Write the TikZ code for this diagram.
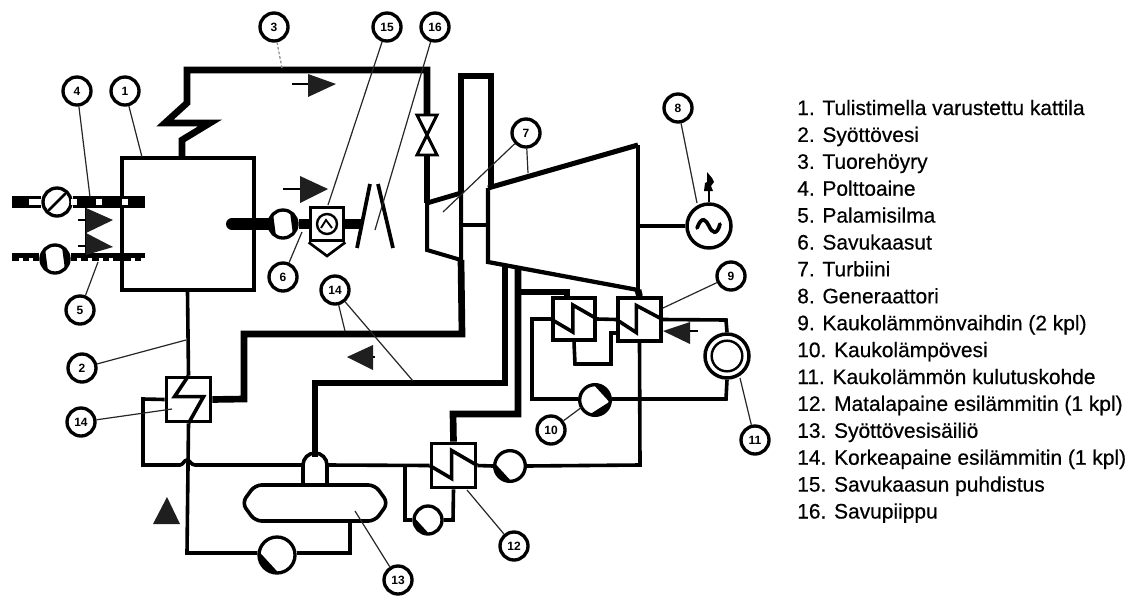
\documentclass[tikz,border=0pt]{standalone}
\usepackage{fontspec}
\setmainfont{Liberation Sans}
\newfontfamily\legendfont[FakeBold=0.5]{Liberation Sans}
\usetikzlibrary{calc}
\tikzset{
  thin pipe/.style={line width=2.7pt,line join=miter},
  thick pipe/.style={line width=5pt,line join=miter},
  casing/.style={line width=3pt,line join=miter},
  leader/.style={line width=0.9pt,draw=black!85},
  callout/.style={circle,draw,fill=white,line width=2.5pt,minimum size=21pt,inner sep=0pt,font=\fontsize{9}{10}\selectfont\bfseries},
  pumpbody/.style={circle,draw,fill=white,line width=2.5pt,inner sep=0pt},
  hxbox/.style={rectangle,draw,fill=white,line width=2.8pt,inner sep=0pt,minimum size=#1},
  flowmark/.style={fill=black!88,draw=none},
  tick/.style={line width=0.9pt},
  legendline/.style={anchor=base west,inner sep=0pt,font=\legendfont\fontsize{15.7}{17}\selectfont}
}
\newcommand{\pumpat}[4]{%
  \node[pumpbody,minimum size=2*#3 pt] (#1) at (#2) {};
  \foreach \a in {#4}{\fill (#1.center) ++(\a:#3 pt) arc[start angle=\a,delta angle=105,radius=#3 pt] -- cycle;}
}
\begin{document}
\begin{tikzpicture}[x=0.75pt,y=-0.75pt]
\useasboundingbox (0,0) rectangle (1135,596);

% ---- equipment
\node[rectangle,draw,line width=3pt,minimum width=99pt,minimum height=99pt,inner sep=0pt] (boiler) at (187.5,223.5) {};
\node[hxbox=33pt] (hxhp) at (188.5,399.5) {};
\node[hxbox=33pt] (hxlp) at (453.5,465.5) {};
\node[hxbox=32pt] (hxa) at (574,319) {};
\node[hxbox=32pt] (hxb) at (639.5,319.5) {};
\node[rectangle,draw,fill=white,line width=2.5pt,minimum size=25pt,inner sep=0pt] (filter) at (327,224) {};
\node[circle,draw,line width=2.6pt,minimum size=33pt,inner sep=0pt] (gen) at (709,226) {};
\node[circle,draw,line width=2.6pt,minimum size=33pt,inner sep=0pt] (load) at (727,356) {};
\node[circle,draw,line width=1.8pt,minimum size=23pt,inner sep=0pt] (loadinner) at (load.center) {};
\pumpat{pfuel}{57,202}{10.5}{}
\pumpat{pair}{55,259}{10.5}{135,315}
\pumpat{pflue}{283,224}{10.5}{135,315}
\pumpat{pfeed}{277,555}{13.5}{170}
\pumpat{pdh}{595,400}{11.5}{-10,250}
\pumpat{pcond}{510,466}{11.5}{170}
\pumpat{pdrain}{428,520}{10.5}{170}

% ---- reference points
\coordinate (hpinT) at (427,203);
\coordinate (hpoutB) at (461,260);
\coordinate (lpTL) at (488,188);
\coordinate (lpTR) at (638,145);
\coordinate (lpBR) at (638,290);
\coordinate (lpBL) at (488,262);
\coordinate (tank) at (315,503);

% ---- fuel and air lines
\draw[line width=9pt] (12,202) -- (pfuel.west);
\draw[line width=9pt] (pfuel.east) -- (145,202);
\foreach \x in {74,99,125}{\fill[white] (\x-3,199) rectangle (\x+3,205);}
\fill[white] (29,199) rectangle (41,205);
\draw[line width=2pt,line cap=round] (49,210) -- (65,194);
\draw[line width=3.2pt] (12,255.5) -- (pair.west |- 0,255.5);
\draw[line width=3.2pt] (pair.east |- 0,255.5) -- (145,255.5);
\draw[line width=3pt,dash pattern=on 5pt off 3pt] (12,259) -- (pair.west |- 0,259);
\draw[line width=3pt,dash pattern=on 5pt off 3pt] (pair.east |- 0,259) -- (145,259);
\draw[line width=2pt] (86,205) -- (86,255);
\fill[flowmark] (86,208) -- (113,220) -- (86,233) -- cycle;
\fill[flowmark] (86,233) -- (113,247) -- (86,255) -- cycle;
\draw[tick] (78,220) -- (86,220);
\draw[tick] (78,246) -- (86,246);

% ---- flue gas
\draw[line width=9pt,line cap=round] (232,224) -- (pflue.west);
\draw[line width=7pt] (pflue.east) -- (filter.west);
\draw[line width=7pt] (filter.east) -- (362,224);
\node[circle,draw,line width=1.8pt,minimum size=15pt,inner sep=0pt] (filterfan) at (filter.center) {};
\draw[line width=1.4pt] (321,228) -- (326,220) -- (332,228);
\draw[line width=2pt,fill=white,line join=miter] (filter.south west) -- (327,256) -- (filter.south east);
\draw[line width=2.8pt] (370,184) -- (357,248);
\draw[line width=2.8pt] (378,184) -- (393,248);

% ---- live steam
\draw[thick pipe] (182,157) -- (182,140) -- (210,123) -- (165,123) -- (187,103) -- (187,70) -- (427,70) -- (427,115);
\draw[line width=2.2pt,fill=white,line join=miter] (417,115) -- (437,115) -- (417,155) -- (437,155) -- cycle;
\draw[thick pipe] (427,155) -- (hpinT);

% ---- turbines
\draw[casing] (hpinT) -- (427,250) -- (hpoutB) -- (461,193);
\draw[line width=3.6pt] (hpinT) -- (461,193);
\draw[casing,line width=3.2pt] (lpTL) -- (lpBL) -- (lpBR);
\draw[line width=3.8pt] (lpTL) -- (lpTR);
\draw[line width=2.8pt] (lpTR) -- (lpBR);
\draw[casing] (461,225) -- (488,225);
\draw[casing] (lpTR |- gen.west) -- (gen.west);

% ---- extraction and bleed lines
\draw[thick pipe] (461,193) -- (461,76) -- (491,76) -- (491,185);
\draw[thick pipe] (hxhp.east) -- (244,399) -- (244,334) -- (462,334) -- (hpoutB);
\draw[thick pipe] (315,457) -- (315,383) -- (505,383) -- (505,265);
\draw[thick pipe] (hxlp.north) -- (453,414) -- (518,414) -- (518,267);
\draw[thick pipe] (518,292) -- (567,292) -- (567,298);
\draw[thick pipe] (lpBR) -- (hxb.north);

% ---- heat exchanger coils
\draw[thin pipe] (hxa.west) -- ++(22,13) -- ++(0,-27) -- (hxa.east);
\draw[thin pipe] (hxb.west) -- ++(20,13) -- ++(0,-27) -- (hxb.east);
\draw[thin pipe] (hxlp.west) -- ++(22,13) -- ++(0,-28) -- (hxlp.east);
\draw[thin pipe] (hxhp.north) -- ++(-14,21) -- ++(29,0) -- (hxhp.south);

% ---- district heat circuit
\draw[thin pipe] (hxa.east) -- (hxb.west);
\draw[thin pipe] (hxa.south) -- (575,364) -- (611,364) -- (611,333) -- (618,333);
\draw[thin pipe] (hxa.west) -- (532,319) -- (532,399) -- (pdh.west |- 0,399);
\draw[thin pipe] (pdh.east |- 0,399) -- (726,399) -- (load.south);
\draw[thin pipe] (load.north) -- (726,320) -- (hxb.east);

% ---- condensate and feed water
\draw[thin pipe] (hxb.south) -- (640,465) -- (pcond.east);
\draw[thin pipe] (pcond.west) -- (hxlp.east);
\draw[thin pipe] (hxlp.west) -- (327,465) -- (327,483);
\draw[thin pipe] (405,465) -- (405,520) -- (pdrain.west);
\draw[thin pipe] (pdrain.east) -- (453,520) -- (hxlp.south);
\draw[thin pipe] (303,483) -- (303,465) -- (195,465) .. controls (191,465) and (190,460) .. (187,460) .. controls (184,460) and (183,465) .. (180,465) -- (143,465) -- (143,399) -- (hxhp.west);
\draw[thin pipe] (303,465) arc[start angle=180,end angle=0,radius=12*0.75pt] -- (327,483);
\draw[thin pipe] (boiler.south) -- (hxhp.north);
\draw[thin pipe] (hxhp.south) -- (187,553) -- (pfeed.west |- 0,553);
\draw[thin pipe] (pfeed.east |- 0,553) -- (350,553) -- (350,521);
\draw[thin pipe,rounded corners=5pt,fill=white] (255,485) -- (375,485) -- (388,503) -- (375,521) -- (255,521) -- (242,503) -- cycle;

% ---- generator details
\draw[line width=2.8pt,line cap=round] (697,228) .. controls (702,215) and (706,220) .. (709,226) .. controls (712,233) and (717,236) .. (720,224);
\draw[line width=2pt] (gen.north) -- (709,190);
\fill (704,191) -- (705,183) -- (707,182) -- (707,172) -- (712,178) -- (714,182) -- (711,186) -- (713,191) -- cycle;

% ---- flow direction marks
\fill[flowmark] (308,74) -- (336,84) -- (308,97) -- cycle;
\draw[tick] (292,84) -- (308,84);
\fill[flowmark] (300,176) -- (328,189) -- (300,203) -- cycle;
\draw[tick] (283,189) -- (300,189);
\fill[flowmark] (347,357) -- (373,345) -- (373,370) -- cycle;
\draw[tick] (373,357) -- (375,357);
\fill[flowmark] (663,331) -- (690,322) -- (690,344) -- cycle;
\draw[tick] (690,331) -- (698,331);
\fill[flowmark] (167,497) -- (153,524) -- (180,524) -- cycle;

% ---- callouts
\node[callout] (c3) at (274,27) {3};
\node[callout] (c15) at (387,27) {15};
\node[callout] (c16) at (435,27) {16};
\node[callout] (c4) at (77,91) {4};
\node[callout] (c1) at (125,91) {1};
\node[callout] (c6) at (283,277) {6};
\node[callout] (c14a) at (335,290) {14};
\node[callout] (c2) at (82,368) {2};
\node[callout] (c14b) at (81,422) {14};
\node[callout] (c5) at (80,310) {5};
\node[callout] (c7) at (526,133) {7};
\node[callout] (c8) at (678,108) {8};
\node[callout] (c9) at (731,276) {9};
\node[callout] (c10) at (551,430) {10};
\node[callout] (c11) at (755,440) {11};
\node[callout] (c12) at (514,546) {12};
\node[callout] (c13) at (398,580) {13};

\draw[leader,draw=black!45,dash pattern=on 2pt off 1.5pt] (c3) -- (282,68);
\draw[leader] (c15) -- (328,205);
\draw[leader] (c16) -- (375,230);
\draw[leader] (c4) -- (90,197);
\draw[leader] (c1) -- (142,157);
\draw[leader] (c6) -- (302,232);
\draw[leader] (c5) -- (98,262);
\draw[leader] (c2) -- (186,340);
\draw[leader] (c14b) -- (172,409);
\draw[leader] (c14a) -- (345,331);
\draw[leader] (c14a) -- (413,381);
\draw[leader] (c7) -- (443,212);
\draw[leader] (c7) -- (528,173);
\draw[leader] (c8) -- (697,203);
\draw[leader] (c9) -- (663,308);
\draw[leader] (c10) -- (582,407);
\draw[leader] (c11) -- (740,378);
\draw[leader] (c12) -- (467,490);
\draw[leader] (c13) -- (355,511);

% ---- legend
\foreach \n/\t [count=\i from 0] in {
  1/Tulistimella varustettu kattila,
  2/Syöttövesi,
  3/Tuorehöyry,
  4/Polttoaine,
  5/Palamisilma,
  6/Savukaasut,
  7/Turbiini,
  8/Generaattori,
  9/Kaukolämmönvaihdin (2 kpl),
  10/Kaukolämpövesi,
  11/Kaukolämmön kulutuskohde,
  12/Matalapaine esilämmitin (1 kpl),
  13/Syöttövesisäiliö,
  14/Korkeapaine esilämmitin (1 kpl),
  15/Savukaasun puhdistus,
  16/Savupiippu}{
  \node[legendline] (leg\n) at (797,115+26.9*\i) {\n. \t};
}
\end{tikzpicture}
\end{document}
